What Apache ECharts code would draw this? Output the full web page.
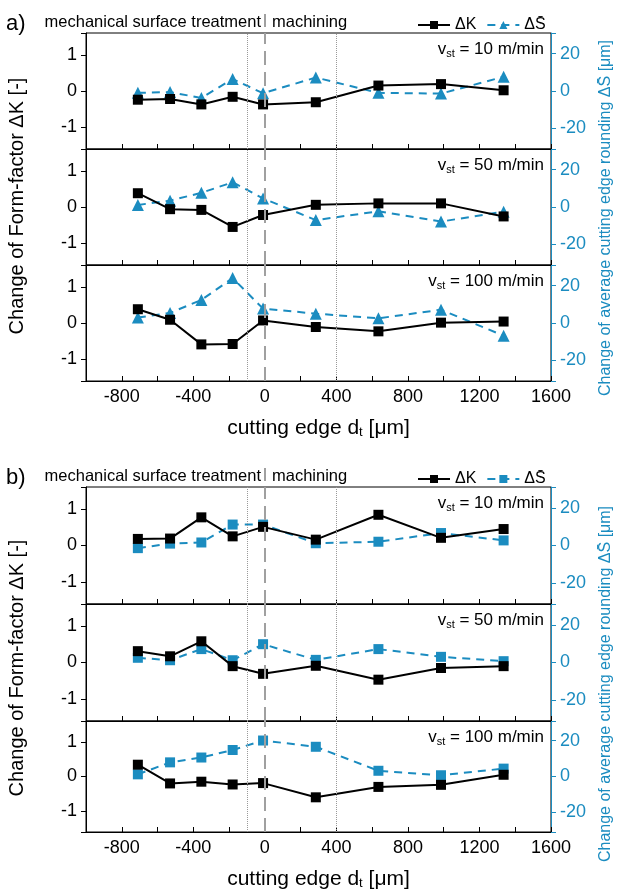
<!DOCTYPE html>
<html>
<head>
<meta charset="utf-8">
<script src="https://cdn.jsdelivr.net/npm/echarts@6/dist/echarts.min.js"></script>
<style>
html,body{margin:0;padding:0;background:#fff;}
#chart{width:617px;height:891px;}
</style>
</head>
<body>
<div id="chart"></div>
<script>
// cutting edge position d_t [µm]
const dt = [-710, -530, -355, -180, -10, 285, 635, 985, 1335];
// x-axis tick labels
const xTicks = [-800, -400, 0, 400, 800, 1200, 1600];
// cutting speeds per panel
const vstLabels = ['10', '50', '100'];

// a) Form-factor change ΔK [-]
const dK_a10  = [-0.24, -0.22, -0.37, -0.16, -0.37, -0.31, 0.15, 0.19, 0.02];
const dK_a50  = [0.38, -0.06, -0.08, -0.55, -0.22, 0.06, 0.10, 0.10, -0.26];
const dK_a100 = [0.38, 0.09, -0.59, -0.58, 0.07, -0.11, -0.23, 0.01, 0.04];
// a) average cutting edge rounding change ΔS [µm]
const dS_a10  = [-1.0, -0.6, -3.7, 6.4, -1.2, 7.2, -1.0, -1.4, 7.6];
const dS_a50  = [1.1, 3.4, 7.6, 13.2, 4.6, -7.0, -2.3, -7.8, -2.5];
const dS_a100 = [2.9, 5.4, 12.3, 24.0, 7.7, 5.0, 2.5, 7.1, -6.8];

// b) Form-factor change ΔK [-]
const dK_b10  = [0.18, 0.19, 0.77, 0.25, 0.51, 0.16, 0.84, 0.21, 0.45];
const dK_b50  = [0.31, 0.17, 0.58, -0.10, -0.31, -0.09, -0.47, -0.15, -0.10];
const dK_b100 = [0.34, -0.20, -0.15, -0.23, -0.19, -0.60, -0.30, -0.24, 0.05];
// b) average cutting edge rounding change ΔS [µm]
const dS_b10  = [-1.4, 1.0, 1.6, 11.1, 11.1, 1.2, 2.0, 6.6, 2.7];
const dS_b50  = [2.5, 1.2, 7.1, 1.2, 9.7, 1.4, 7.1, 3.0, 0.7];
const dS_b100 = [1.2, 7.9, 10.6, 14.8, 20.1, 16.6, 3.2, 0.7, 4.4];

// vertical reference lines
const dottedLines = [-100, 400];
const dashedLine = 0;

const FONT = "'Liberation Sans', Arial, Helvetica, sans-serif";
const BLUE = '#1b8cc0';
const GREY = '#a0a0a0';

const panels = [
  {fig: 'a', k: dK_a10,  s: dS_a10,  v: vstLabels[0], top: 33,  h: 116},
  {fig: 'a', k: dK_a50,  s: dS_a50,  v: vstLabels[1], top: 149, h: 116},
  {fig: 'a', k: dK_a100, s: dS_a100, v: vstLabels[2], top: 265, h: 116},
  {fig: 'b', k: dK_b10,  s: dS_b10,  v: vstLabels[0], top: 487, h: 117},
  {fig: 'b', k: dK_b50,  s: dS_b50,  v: vstLabels[1], top: 604, h: 117},
  {fig: 'b', k: dK_b100, s: dS_b100, v: vstLabels[2], top: 721, h: 117}
];

const legendNames = {K_a: 'ΔK', S_a: 'ΔS\u0304', K_b: 'ΔK', S_b: 'ΔS\u0304'};

const grid = [], xAxis = [], yAxis = [], series = [], title = [];
panels.forEach((p, i) => {
  const isBottom = (i === 2 || i === 5);
  grid.push({left: 86, right: 66, top: p.top, height: p.h, show: true,
    borderColor: '#000', borderWidth: 1, backgroundColor: 'transparent'});
  xAxis.push({
    type: 'value', gridIndex: i, min: -1000, max: 1600, interval: 200,
    axisLine: {show: true, onZero: false, lineStyle: {color: '#000', width: 1}},
    axisTick: {show: true, inside: true, length: 5, lineStyle: {color: '#000'}},
    splitLine: {show: false},
    axisLabel: {show: isBottom, fontFamily: FONT, fontSize: 18, color: '#000', margin: 7,
      formatter: v => (xTicks.indexOf(v) >= 0 ? String(v) : '')},
    name: isBottom ? '{a|cutting edge d}{s|t}{a| [μm]}' : '',
    nameLocation: 'middle', nameGap: 36,
    nameTextStyle: {fontFamily: FONT, fontSize: 21, color: '#000',
      rich: {a: {fontFamily: FONT, fontSize: 21, color: '#000'},
             s: {fontFamily: FONT, fontSize: 13, color: '#000', padding: [9, 0, 0, 0]}}}
  });
  yAxis.push({
    type: 'value', gridIndex: i, position: 'left', min: -1.6, max: 1.6, splitNumber: 3,
    axisLine: {show: true, onZero: false, lineStyle: {color: '#000', width: 1}},
    axisTick: {show: true, inside: false, length: 5, lineStyle: {color: '#000'}},
    splitLine: {show: false},
    axisLabel: {fontFamily: FONT, fontSize: 18, color: '#000', margin: 9,
      formatter: v => (Math.abs(v - Math.round(v)) < 1e-9 ? String(Math.round(v)) : '')}
  });
  yAxis.push({
    type: 'value', gridIndex: i, position: 'right', min: -31, max: 31, splitNumber: 3,
    axisLine: {show: true, onZero: false, lineStyle: {color: BLUE, width: 1}},
    axisTick: {show: true, inside: false, length: 5, lineStyle: {color: BLUE}},
    splitLine: {show: false},
    axisLabel: {fontFamily: FONT, fontSize: 18, color: BLUE, margin: 9,
      formatter: v => (v % 20 === 0 ? String(v) : '')}
  });
  series.push({
    name: p.fig === 'a' ? 'S_a' : 'S_b', type: 'line', xAxisIndex: i, yAxisIndex: 2 * i + 1,
    data: dt.map((x, j) => [x, p.s[j]]),
    symbol: p.fig === 'a' ? 'triangle' : 'rect', symbolSize: p.fig === 'a' ? 12 : 10,
    lineStyle: {color: BLUE, width: 2, type: [8, 6]},
    itemStyle: {color: BLUE}, z: 3, animation: false
  });
  series.push({
    name: p.fig === 'a' ? 'K_a' : 'K_b', type: 'line', xAxisIndex: i, yAxisIndex: 2 * i,
    data: dt.map((x, j) => [x, p.k[j]]),
    symbol: 'rect', symbolSize: 10,
    lineStyle: {color: '#000', width: 2},
    itemStyle: {color: '#000'}, z: 4, animation: false,
    markLine: {
      silent: true, symbol: ['none', 'none'], label: {show: false}, animation: false,
      data: dottedLines.map(x => ({xAxis: x, lineStyle: {color: '#999', width: 1, type: 'dotted'}}))
        .concat([{xAxis: dashedLine, lineStyle: {color: GREY, width: 2, type: [14, 7]}}])
    }
  });
  title.push({
    text: '{v|v}{s|st}{v| = ' + p.v + ' m/min}',
    right: 68, top: p.top + 2,
    textStyle: {fontWeight: 'normal', rich: {
      v: {fontFamily: FONT, fontSize: 17, color: '#000', fontWeight: 'normal'},
      s: {fontFamily: FONT, fontSize: 11, color: '#000', fontWeight: 'normal', padding: [8, 0, 0, 0]}
    }}
  });
});

function header(letter, y) {
  return [
    {type: 'text', x: 6, y: y + 2, style: {text: letter + ')', font: '22px ' + FONT, fill: '#000', align: 'left', verticalAlign: 'middle'}},
    {type: 'text', x: 261, y: y, style: {text: 'mechanical surface treatment', font: '16.5px ' + FONT, fill: '#000', align: 'right', verticalAlign: 'middle'}},
    {type: 'rect', shape: {x: 264, y: y - 8, width: 2, height: 13}, style: {fill: GREY}},
    {type: 'text', x: 272, y: y, style: {text: 'machining', font: '16.5px ' + FONT, fill: '#000', align: 'left', verticalAlign: 'middle'}}
  ];
}

const graphic = [].concat(
  header('a', 22), header('b', 476),
  [
    {type: 'text', x: 17, y: 206, rotation: Math.PI / 2, style: {text: 'Change of Form-factor ΔK [-]', font: '20px ' + FONT, fill: '#000', align: 'center', verticalAlign: 'middle'}},
    {type: 'text', x: 17, y: 668, rotation: Math.PI / 2, style: {text: 'Change of Form-factor ΔK [-]', font: '20px ' + FONT, fill: '#000', align: 'center', verticalAlign: 'middle'}},
    {type: 'text', x: 606, y: 218, rotation: Math.PI / 2, style: {text: 'Change of average cutting edge rounding ΔS\u0304 [μm]', font: '16px ' + FONT, fill: BLUE, align: 'center', verticalAlign: 'middle'}},
    {type: 'text', x: 606, y: 684, rotation: Math.PI / 2, style: {text: 'Change of average cutting edge rounding ΔS\u0304 [μm]', font: '16px ' + FONT, fill: BLUE, align: 'center', verticalAlign: 'middle'}}
  ]
);

const legendCommon = {
  orient: 'horizontal', itemWidth: 32, itemHeight: 10, itemGap: 10,
  formatter: n => legendNames[n],
  textStyle: {fontFamily: FONT, fontSize: 16, color: '#000'},
  selectedMode: false
};

const option = {
  animation: false,
  backgroundColor: '#fff',
  grid, xAxis, yAxis, series, title, graphic,
  legend: [
    Object.assign({data: ['K_a', 'S_a'], left: 412, top: 12}, legendCommon),
    Object.assign({data: ['K_b', 'S_b'], left: 412, top: 466}, legendCommon)
  ]
};

const chart = echarts.init(document.getElementById('chart'), null, {renderer: 'canvas'});
chart.setOption(option);
</script>
</body>
</html>
